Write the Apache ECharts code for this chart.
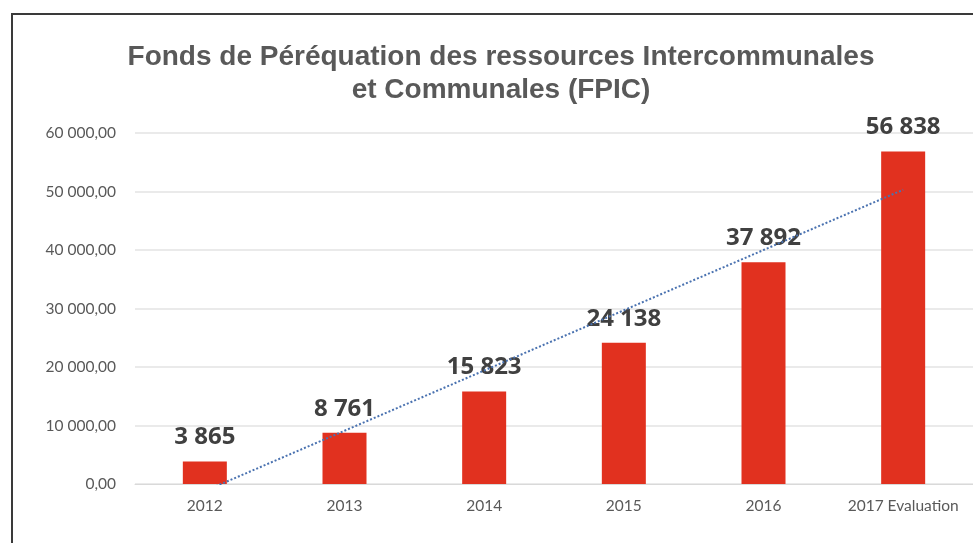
<!DOCTYPE html>
<html>
<head>
<meta charset="utf-8">
<script src="https://cdn.jsdelivr.net/npm/echarts@6/dist/echarts.min.js"></script>
<style>
  html, body { margin: 0; padding: 0; background: #ffffff; }
  #chart { width: 973px; height: 543px; }
  #frame {
    position: absolute; left: 11px; top: 13px; width: 980px; height: 560px;
    border-left: 2px solid #3a3a3a; border-top: 2px solid #3a3a3a;
    pointer-events: none;
  }
</style>
</head>
<body>
<div id="chart"></div>
<div id="frame"></div>
<script>
// categories and values
var years = ['2012', '2013', '2014', '2015', '2016', '2017 Evaluation']
var fpic = [3865, 8761, 15823, 24138, 37892, 56838]
// linear trend line as drawn (read at each category)
var trend = [-1200, 9100, 19400, 29700, 40000, 50300]
var yTicks = [0, 10000, 20000, 30000, 40000, 50000, 60000]

function frNumber(v, dec) {
  var parts = v.toFixed(dec).split('.')
  var intPart = parts[0].replace(/\B(?=(\d{3})+(?!\d))/g, ' ')
  return parts.length > 1 ? intPart + ',' + parts[1] : intPart
}

var myChart = echarts.init(document.getElementById('chart'))
var option = {
  backgroundColor: '#ffffff',
  animation: false,
  title: {
    text: 'Fonds de Péréquation des ressources Intercommunales\net Communales (FPIC)',
    left: 496,
    textAlign: 'center',
    top: 36,
    textStyle: {
      fontFamily: 'Liberation Sans',
      fontSize: 28,
      fontWeight: 'bold',
      color: '#595959',
      lineHeight: 33
    }
  },
  grid: {
    left: 135,
    right: -2,
    top: 133,
    bottom: 59
  },
  xAxis: {
    type: 'category',
    data: years,
    axisLine: { show: true, lineStyle: { color: '#d9d9d9', width: 1 } },
    axisTick: { show: false },
    axisLabel: {
      interval: 0,
      hideOverlap: false,
      color: '#595959',
      fontFamily: 'Lato',
      fontSize: 15.5,
      margin: 14
    }
  },
  yAxis: {
    type: 'value',
    min: yTicks[0],
    max: yTicks[yTicks.length - 1],
    interval: 10000,
    axisLine: { show: false },
    axisTick: { show: false },
    splitLine: { lineStyle: { color: '#e3e3e3', width: 1.5 } },
    axisLabel: {
      color: '#595959',
      fontFamily: 'Lato',
      fontSize: 15.5,
      margin: 19,
      formatter: function (v) { return frNumber(v, 2) }
    }
  },
  series: [
    {
      name: 'FPIC',
      type: 'bar',
      data: fpic,
      barWidth: 44,
      itemStyle: { color: '#e1311f' },
      label: {
        show: true,
        position: 'top',
        distance: 12,
        color: '#404040',
        fontFamily: 'Open Sans',
        fontWeight: 'bold',
        fontSize: 24,
        formatter: function (p) { return frNumber(p.value, 0) }
      }
    },
    {
      name: 'Tendance',
      type: 'line',
      data: trend,
      clip: true,
      symbol: 'none',
      z: 5,
      lineStyle: { color: '#4a72b0', width: 2, type: 'dotted' }
    }
  ]
}
myChart.setOption(option, true)
window.addEventListener('resize', function () {
  myChart.resize()
})
</script>
</body>
</html>
